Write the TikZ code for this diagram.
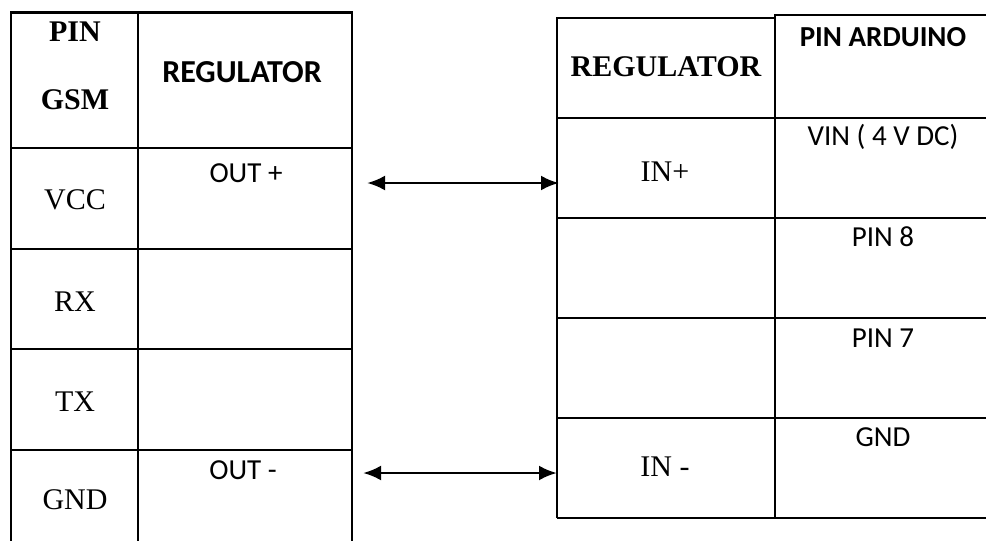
\documentclass[tikz,border=0pt]{standalone}
\usepackage{fontspec}
\setmainfont{Liberation Serif}
\newfontfamily\calibri{Carlito}
\usetikzlibrary{arrows.meta}

\begin{document}
\begin{tikzpicture}[x=0.5pt,y=-0.5pt,
	grid/.style={line width=1.4pt},
	serif/.style={font=\fontsize{15}{17}\selectfont},
	serifb/.style={font=\fontsize{15}{17}\selectfont\bfseries},
	sans/.style={font=\fontsize{14.5}{17}\selectfont\calibri},
	sansb/.style={font=\fontsize{14.5}{17}\selectfont\calibri\bfseries},
	link/.style={line width=1.4pt,{Latex[length=9pt,width=7.5pt]}-{Latex[length=9pt,width=7.5pt]}}]
	\useasboundingbox (0,0) rectangle (987,541);
	% left table (GSM side)
	\draw[grid] (11,541) -- (11,12.5) -- (352,12.5) -- (352,541);
	\draw[grid] (138,12.5) -- (138,541);
	\foreach \y in {148,249,349,450}
		\draw[grid] (11,\y) -- (352,\y);
	% right table (Arduino side)
	\draw[grid] (557,518) -- (557,18) -- (775,18);
	\draw[grid] (775,518) -- (775,15) -- (986,15);
	\foreach \y in {118,218,318,418,518}
		\draw[grid] (557,\y) -- (986,\y);
	% texts left
	\node[serifb] (pin) at (75,32) {PIN};
	\node[serifb] (gsm) at (75,100) {GSM};
	\node[sansb,font=\fontsize{16}{18}\selectfont\calibri\bfseries] (regl) at (242,72) {REGULATOR};
	\node[sans] (outp) at (246,173) {OUT +};
	\node[serif] (vcc) at (75,200) {VCC};
	\node[serif] (rx) at (75,302) {RX};
	\node[serif] (tx) at (75,402) {TX};
	\node[serif] (gndl) at (75,500) {GND};
	\node[sans] (outm) at (243,470) {OUT -};
	% texts right
	\node[serifb] (regr) at (666,67) {REGULATOR};
	\node[sansb] (pinard) at (883,37) {PIN ARDUINO};
	\node[sans] (vin) at (883,137) {VIN ( 4 V DC)};
	\node[serif] (inp) at (665,172) {IN+};
	\node[sans] (pin8) at (883,237) {PIN 8};
	\node[sans] (pin7) at (883,338) {PIN 7};
	\node[sans] (gndr) at (883,437) {GND};
	\node[serif] (inm) at (665,467) {IN -};
	% connections
	\coordinate (outpend) at (367,183);
	\coordinate (inpend) at (559,183);
	\coordinate (outmend) at (363,473);
	\coordinate (inmend) at (557,473);
	\draw[link] (outpend) -- (inpend);
	\draw[link] (outmend) -- (inmend);
\end{tikzpicture}
\end{document}
